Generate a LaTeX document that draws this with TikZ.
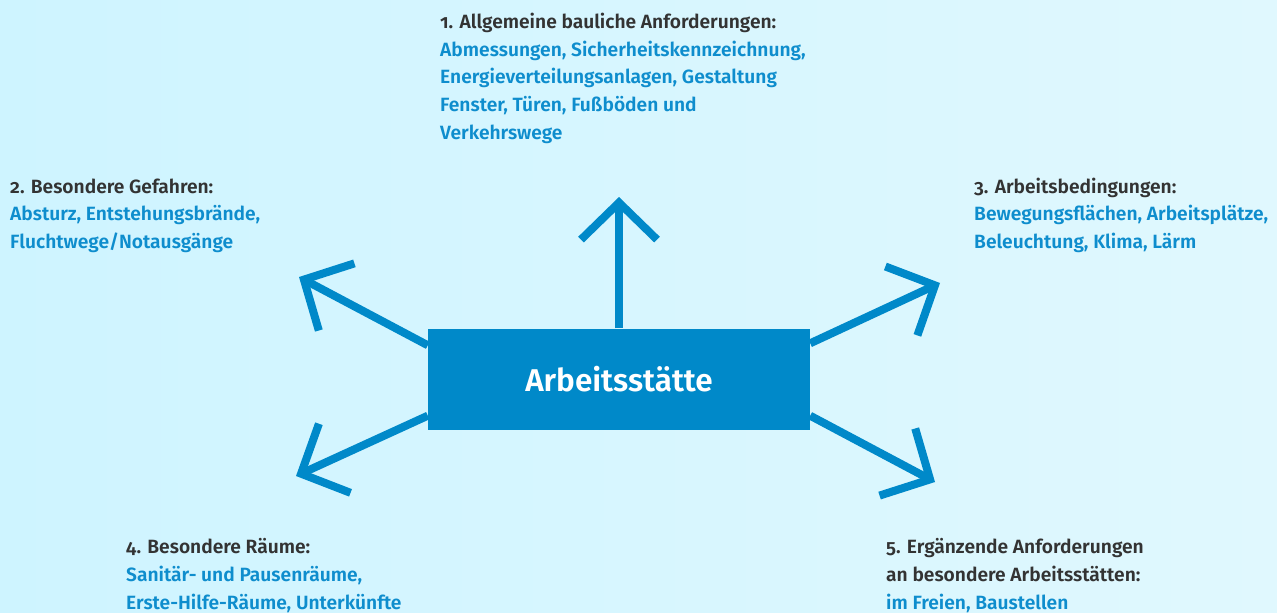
\documentclass[tikz,border=0pt]{standalone}
\usepackage{fontspec}
\setmainfont{Fira Sans SemiBold}[Numbers=OldStyle]
\usetikzlibrary{arrows.meta,calc}
\definecolor{bgL}{RGB}{206,244,255}
\definecolor{bgR}{RGB}{224,248,254}
\definecolor{boxblue}{RGB}{0,137,201}
\definecolor{txtblue}{RGB}{14,141,205}
\definecolor{txtdark}{RGB}{51,51,51}
\begin{document}
\begin{tikzpicture}[x=1pt,y=-1pt,
  arr/.style={draw=boxblue,line width=8pt,
    -{Straight Barb[sharp,length=37pt,width=76pt]}},
  block/.style={anchor=base west,align=left,inner sep=0pt,
    font=\fontsize{19.2}{27.6}\selectfont,text=txtblue}]
\useasboundingbox (0,0) rectangle (1277,613);
\fill[left color=bgL,right color=bgR] (0,0) rectangle (1277,613);
% centre box
\node[fill=boxblue,minimum width=382pt,minimum height=101pt,inner sep=0pt,
  text=white,font=\fontsize{31.5}{36}\selectfont] (box) at (619,379) {Arbeitsstätte};
% tips
\coordinate (t1) at (619,197);
\coordinate (t2) at (299,277);
\coordinate (t3) at (940,283);
\coordinate (t4) at (296,476);
\coordinate (t5) at (935,482);
% shaft starts on the box border
\coordinate (s2) at ($(box.north west)+(0,17)$);
\coordinate (s3) at ($(box.north east)+(0,15)$);
\coordinate (s4) at ($(box.south west)+(0,-14)$);
\coordinate (s5) at ($(box.south east)+(0,-14)$);
\draw[arr] (box.north) -- (t1);
\draw[arr] (s2) -- (t2);
\draw[arr] (s3) -- (t3);
\draw[arr] (s4) -- (t4);
\draw[arr] (s5) -- (t5);
% labels (anchored at the baseline of their last line)
\node[block] (l1) at (440,139) {\textcolor{txtdark}{1. Allgemeine bauliche Anforderungen:}\\
  Abmessungen, Sicherheitskennzeichnung,\\
  Energieverteilungsanlagen, Gestaltung\\
  Fenster, Türen, Fußböden und\\
  Verkehrswege};
\node[block] (l2) at (10,248.4) {\textcolor{txtdark}{2. Besondere Gefahren:}\\
  Absturz, Entstehungsbrände,\\
  Fluchtwege/Notausgänge};
\node[block] (l3) at (974,248.4) {\textcolor{txtdark}{3. Arbeitsbedingungen:}\\
  Bewegungsflächen, Arbeitsplätze,\\
  Beleuchtung, Klima, Lärm};
\node[block] (l4) at (126,609) {\textcolor{txtdark}{4. Besondere Räume:}\\
  Sanitär- und Pausenräume,\\
  Erste-Hilfe-Räume, Unterkünfte};
\node[block] (l5) at (886,609) {\textcolor{txtdark}{5. Ergänzende Anforderungen}\\
  \textcolor{txtdark}{an besondere Arbeitsstätten:}\\
  im Freien, Baustellen};
\end{tikzpicture}
\end{document}
